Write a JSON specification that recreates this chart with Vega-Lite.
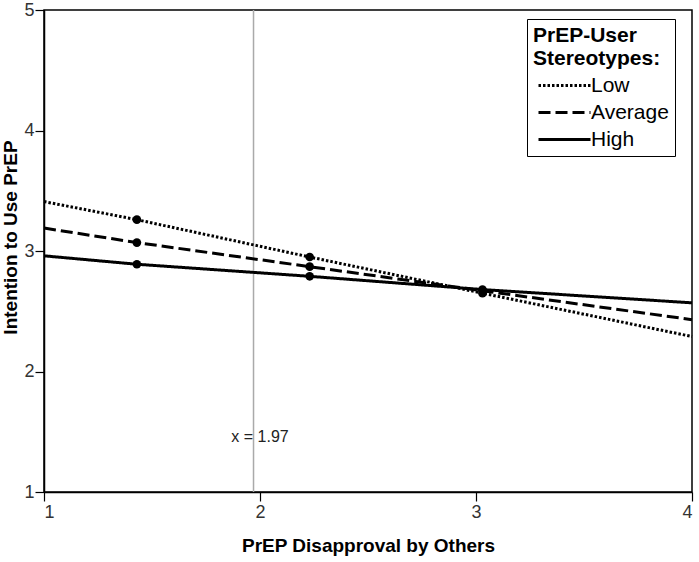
{
  "$schema": "https://vega.github.io/schema/vega-lite/v6.json",
  "width": 648,
  "height": 482,
  "autosize": {"type": "none"},
  "padding": {"left": 44, "top": 10, "right": 7, "bottom": 70},
  "background": "white",
  "config": {
    "font": "Liberation Sans",
    "view": {"stroke": "black", "strokeWidth": 1.5},
    "axis": {
      "grid": false,
      "domainColor": "black",
      "tickColor": "black",
      "labelColor": "#333",
      "labelFontSize": 18,
      "titleFontSize": 19,
      "titleFontWeight": "bold",
      "titleColor": "black",
      "tickSize": 9,
      "domainWidth": 1.5,
      "tickWidth": 1.2
    }
  },
  "datasets": {
    "lines": [
      {"group": "Low", "x": 1, "y": 3.41, "pt": false},
      {"group": "Low", "x": 1.43, "y": 3.26, "pt": true},
      {"group": "Low", "x": 2.23, "y": 2.95, "pt": true},
      {"group": "Low", "x": 3.03, "y": 2.65, "pt": true},
      {"group": "Low", "x": 4, "y": 2.29, "pt": false},
      {"group": "Average", "x": 1, "y": 3.19, "pt": false},
      {"group": "Average", "x": 1.43, "y": 3.07, "pt": true},
      {"group": "Average", "x": 2.23, "y": 2.87, "pt": true},
      {"group": "Average", "x": 3.03, "y": 2.67, "pt": true},
      {"group": "Average", "x": 4, "y": 2.43, "pt": false},
      {"group": "High", "x": 1, "y": 2.96, "pt": false},
      {"group": "High", "x": 1.43, "y": 2.89, "pt": true},
      {"group": "High", "x": 2.23, "y": 2.79, "pt": true},
      {"group": "High", "x": 3.03, "y": 2.68, "pt": true},
      {"group": "High", "x": 4, "y": 2.57, "pt": false}
    ],
    "ref": [{"xv": 1.97}],
    "label": [{"x": 2.0, "y": 1.46, "text": "x = 1.97"}]
  },
  "layer": [
    {
      "data": {"name": "ref"},
      "mark": {"type": "rule", "color": "#aaaaaa", "strokeWidth": 1.5},
      "encoding": {
        "x": {"field": "xv", "type": "quantitative", "scale": {"domain": [1, 4]}}
      }
    },
    {
      "data": {"name": "lines"},
      "mark": {"type": "line", "color": "black", "strokeWidth": 3},
      "encoding": {
        "x": {"field": "x", "type": "quantitative", "scale": {"domain": [1, 4], "nice": false},
              "axis": {"values": [1, 2, 3, 4], "format": "d", "title": "PrEP Disapproval by Others", "titlePadding": 15, "labelPadding": 2}},
        "y": {"field": "y", "type": "quantitative", "scale": {"domain": [1, 5], "nice": false},
              "axis": {"values": [1, 2, 3, 4, 5], "format": "d", "title": "Intention to Use PrEP", "titlePadding": 3, "labelPadding": 1, "titleY": 227}},
        "strokeDash": {
          "field": "group", "type": "nominal",
          "scale": {"domain": ["Low", "Average", "High"], "range": [[2.5, 2], [12, 5], [1, 0]]},
          "legend": {
            "title": ["PrEP-User", "Stereotypes:"],
            "orient": "none",
            "legendX": 483,
            "legendY": 9,
            "fillColor": "white",
            "strokeColor": "black",
            "padding": 6,
            "titleFontSize": 21,
            "titleFontWeight": "bold",
            "titleColor": "black",
            "titleLineHeight": 23,
            "titlePadding": 6,
            "labelFontSize": 21,
            "labelColor": "black",
            "labelOffset": 37,
            "symbolType": "M-1,0H9.4",
            "symbolSize": 100,
            "symbolStrokeWidth": 3,
            "symbolStrokeColor": "black",
            "symbolFillColor": "transparent",
            "rowPadding": 5
          }
        }
      }
    },
    {
      "data": {"name": "lines"},
      "transform": [{"filter": "datum.pt"}],
      "mark": {"type": "circle", "color": "black", "opacity": 1, "size": 75},
      "encoding": {
        "x": {"field": "x", "type": "quantitative"},
        "y": {"field": "y", "type": "quantitative"}
      }
    },
    {
      "data": {"name": "label"},
      "mark": {"type": "text", "fontSize": 16, "color": "#222", "align": "center", "baseline": "middle"},
      "encoding": {
        "x": {"field": "x", "type": "quantitative"},
        "y": {"field": "y", "type": "quantitative"},
        "text": {"field": "text"}
      }
    }
  ]
}
